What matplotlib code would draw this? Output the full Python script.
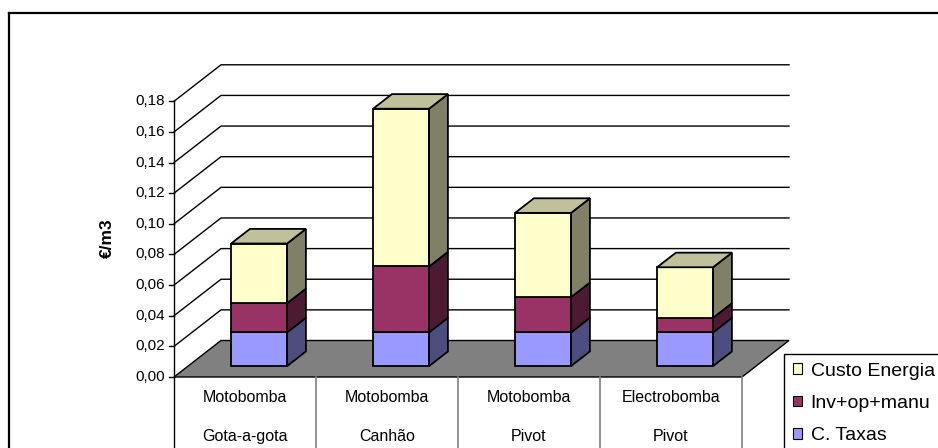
import numpy as np
import matplotlib.pyplot as plt
from matplotlib.patches import Polygon, Patch
from matplotlib.lines import Line2D

plt.rcParams['font.family'] = ['Liberation Sans', 'DejaVu Sans']

# data
cat_top = ['Motobomba', 'Motobomba', 'Motobomba', 'Electrobomba']
cat_bottom = ['Gota-a-gota', 'Canhão', 'Pivot', 'Pivot']
series = ['C. Taxas', 'Inv+op+manu', 'Custo Energia']
taxas = [0.022, 0.022, 0.022, 0.022]
inv = [0.019, 0.043, 0.023, 0.0095]
energia = [0.039, 0.103, 0.055, 0.033]
yticks = [0.00, 0.02, 0.04, 0.06, 0.08, 0.10, 0.12, 0.14, 0.16, 0.18]

# (front, side, top) colours per series
colors = [('#9999FF', '#4D4D80', '#7373BF'),
          ('#993366', '#4D1A33', '#73264D'),
          ('#FFFFCC', '#808066', '#C0C09A')]

W, H = 938, 448
fig = plt.figure(figsize=(W / 100, H / 100), dpi=100)
ax = fig.add_axes([0, 0, 1, 1])

# pixel geometry of the oblique 3D frame
X0, Y0 = 174, 377
PX_CAT = 142.0
PX_VAL = 1531.7
ax.set_xlim(-X0 / PX_CAT, (W - X0) / PX_CAT)
ax.set_ylim(-(H - Y0) / PX_VAL, Y0 / PX_VAL)
ax.axis('off')
DX = 47 / PX_CAT
DY = 36.5 / PX_VAL
ncat = len(cat_top)
ymax = yticks[-1]

# walls: gridlines
for v in yticks[1:]:
    ax.plot([0, DX, ncat + DX], [v, v + DY, v + DY], color='black', lw=1, zorder=1)
# value axis and ticks
ax.plot([0, 0], [ax.get_ylim()[0], ymax], color='black', lw=1, zorder=5)
for v in yticks:
    ax.plot([-5 / PX_CAT, 0], [v, v], color='black', lw=1, zorder=5)
    ax.text(-9 / PX_CAT, v, f'{v:.2f}'.replace('.', ','), ha='right', va='center',
            fontsize=11)

# floor
floor = Polygon([(0, 0), (ncat, 0), (ncat + DX, DY), (DX, DY)], closed=True,
                facecolor='#808080', edgecolor='black', lw=1, zorder=2)
ax.add_patch(floor)

# bars
bw = 56 / PX_CAT
f0, f1 = 0.3, 0.7
stack = [taxas, inv, energia]
for i in range(ncat):
    base = 0.0
    c = i + 0.5
    xl = c - bw / 2 + f0 * DX
    xr = c + bw / 2 + f0 * DX
    ox, oy = (f1 - f0) * DX, (f1 - f0) * DY
    for s, vals in enumerate(stack):
        top = base + vals[i]
        yb, yt = base + f0 * DY, top + f0 * DY
        front, side, topc = colors[s]
        ax.add_patch(Polygon([(xl, yb), (xr, yb), (xr, yt), (xl, yt)],
                             facecolor=front, edgecolor='black', lw=1.3, zorder=4,
                             joinstyle='miter'))
        ax.add_patch(Polygon([(xr, yb), (xr + ox, yb + oy), (xr + ox, yt + oy), (xr, yt)],
                             facecolor=side, edgecolor='black', lw=1.3, zorder=4,
                             joinstyle='miter'))
        if s == len(stack) - 1:
            ax.add_patch(Polygon([(xl, yt), (xr, yt), (xr + ox, yt + oy), (xl + ox, yt + oy)],
                                 facecolor=topc, edgecolor='black', lw=1.3, zorder=4,
                                 joinstyle='miter'))
        base = top

# category table
ybot = ax.get_ylim()[0]
for k in range(1, ncat + 1):
    ax.plot([k, k], [0, ybot], color='#808080', lw=1.2, zorder=3)
for i in range(ncat):
    ax.text(i + 0.5, -20 / PX_VAL, cat_top[i], ha='center', va='center', fontsize=11.5)
    ax.text(i + 0.5, -59 / PX_VAL, cat_bottom[i], ha='center', va='center', fontsize=11.5)

# axis title
ax.text(-67 / PX_CAT, 139 / PX_VAL, '€/m3', rotation=90, ha='center', va='center',
        fontsize=12.5, fontweight='bold')

# outer chart border (open to the right and bottom)
fig.add_artist(Line2D([9 / W, 9 / W], [0, 1 - 13.5 / H], color='black', lw=1.6,
                      transform=fig.transFigure))
fig.add_artist(Line2D([9 / W, 1], [1 - 13.5 / H, 1 - 13.5 / H], color='black', lw=1.6,
                      transform=fig.transFigure))

# legend
handles = [Patch(facecolor=colors[s][0], edgecolor='black', lw=0.8, label=series[s])
           for s in range(len(series) - 1, -1, -1)]
leg = fig.legend(handles=handles, loc='upper left', bbox_to_anchor=(784 / W, 1 - 354 / H),
                 fontsize=14, frameon=True, fancybox=False, framealpha=1,
                 edgecolor='black', borderpad=0.45, labelspacing=0.78,
                 handlelength=0.47, handleheight=0.47, handletextpad=0.45, borderaxespad=0)
leg.get_frame().set_linewidth(1)

fig.savefig('out.png', dpi=100)
